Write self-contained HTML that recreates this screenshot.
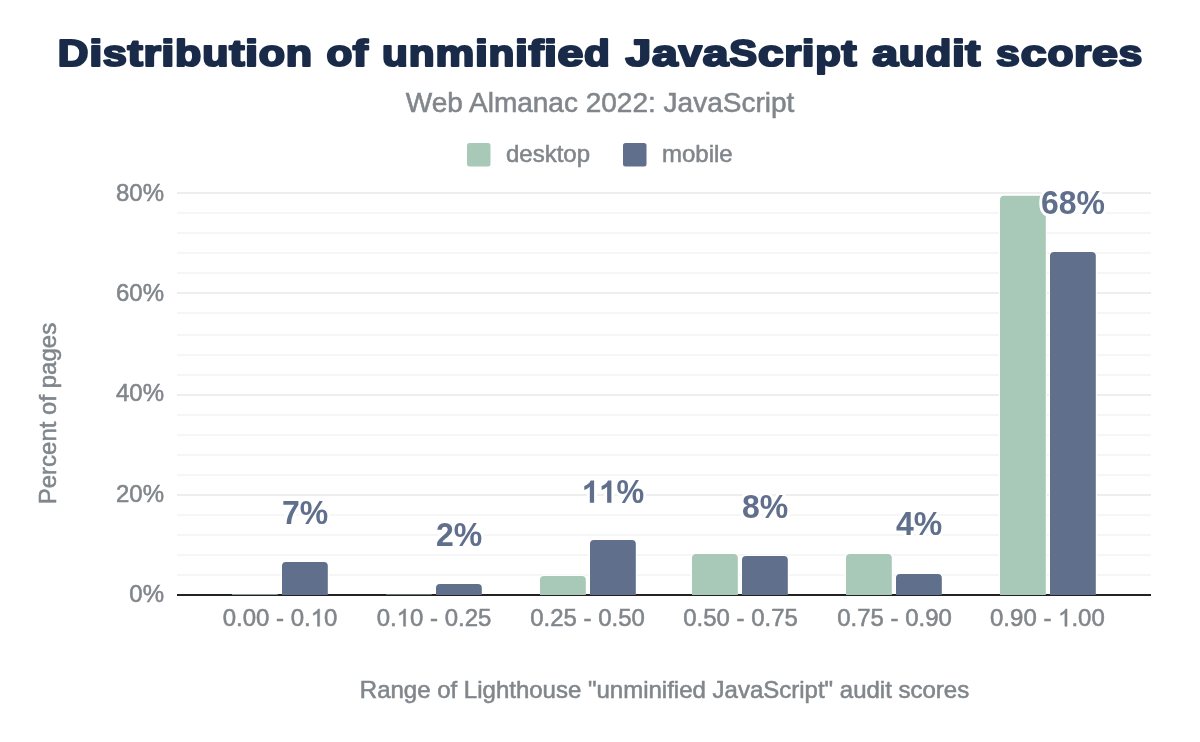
<!DOCTYPE html>
<html><head><meta charset="utf-8">
<style>
html,body{margin:0;padding:0;background:#fff;}
body{width:1200px;height:742px;overflow:hidden;font-family:"Liberation Sans",sans-serif;}
svg{display:block;will-change:transform}
text{font-family:"Liberation Sans",sans-serif;}
.ax{fill:#80868b;font-size:24px}
.ax,#sub,#lg1,#lg2,#xt,#yt{stroke:#80868b;stroke-width:.55px}
.dl{fill:#5f6f8c;font-size:33.5px;font-weight:bold;stroke:#fff;stroke-width:6px;paint-order:stroke;stroke-linejoin:round}
.tk{font-size:24.6px}
.one{fill:none;stroke:none}
</style></head><body>
<svg width="1200" height="742" viewBox="0 0 1200 742">
<rect width="1200" height="742" fill="#fff"/>
<!-- title -->
<g id="title" font-size="37" font-weight="bold" fill="#1a2b49" stroke="#1a2b49" stroke-width="2.2" stroke-linejoin="round">
<text transform="translate(57.82,65.6) scale(1.1478,1)">D</text><text transform="translate(89.16,65.6) scale(1.2760,1)">i</text><text transform="translate(102.86,65.6) scale(1.1706,1)">s</text><text transform="translate(127.55,65.6) scale(1.2444,1)">t</text><text transform="translate(143.39,65.6) scale(1.2158,1)">r</text><text transform="translate(161.37,65.6) scale(1.2760,1)">i</text><text transform="translate(175.10,65.6) scale(1.1628,1)">b</text><text transform="translate(202.20,65.6) scale(1.1628,1)">u</text><text transform="translate(229.13,65.6) scale(1.2444,1)">t</text><text transform="translate(244.91,65.6) scale(1.2760,1)">i</text><text transform="translate(258.64,65.6) scale(1.1628,1)">o</text><text transform="translate(285.74,65.6) scale(1.1628,1)">n</text>
<text transform="translate(326.39,65.6) scale(1.1424,1)">o</text><text transform="translate(352.84,65.6) scale(1.2224,1)">f</text>
<text transform="translate(381.99,65.6) scale(1.1440,1)">u</text><text transform="translate(408.65,65.6) scale(1.1440,1)">n</text><text transform="translate(435.51,65.6) scale(1.1788,1)">m</text><text transform="translate(475.08,65.6) scale(1.2553,1)">i</text><text transform="translate(488.60,65.6) scale(1.1440,1)">n</text><text transform="translate(515.06,65.6) scale(1.2553,1)">i</text><text transform="translate(528.40,65.6) scale(1.2242,1)">f</text><text transform="translate(543.92,65.6) scale(1.2553,1)">i</text><text transform="translate(557.43,65.6) scale(1.2571,1)">e</text><text transform="translate(584.09,65.6) scale(1.1440,1)">d</text>
<text transform="translate(625.47,65.6) scale(1.2490,1)">J</text><text transform="translate(651.96,65.6) scale(1.2490,1)">a</text><text transform="translate(678.42,65.6) scale(1.1441,1)">v</text><text transform="translate(702.71,65.6) scale(1.2490,1)">a</text><text transform="translate(729.24,65.6) scale(1.1270,1)">S</text><text transform="translate(757.88,65.6) scale(1.2490,1)">c</text><text transform="translate(784.23,65.6) scale(1.1884,1)">r</text><text transform="translate(801.80,65.6) scale(1.2471,1)">i</text><text transform="translate(815.22,65.6) scale(1.1366,1)">p</text><text transform="translate(841.55,65.6) scale(1.2162,1)">t</text>
<text transform="translate(872.17,65.6) scale(1.2570,1)">a</text><text transform="translate(898.82,65.6) scale(1.1438,1)">u</text><text transform="translate(925.48,65.6) scale(1.1438,1)">d</text><text transform="translate(951.94,65.6) scale(1.2551,1)">i</text><text transform="translate(965.28,65.6) scale(1.2240,1)">t</text>
<text transform="translate(996.12,65.6) scale(1.1547,1)">s</text><text transform="translate(1020.65,65.6) scale(1.2605,1)">c</text><text transform="translate(1047.38,65.6) scale(1.1470,1)">o</text><text transform="translate(1073.98,65.6) scale(1.1993,1)">r</text><text transform="translate(1091.91,65.6) scale(1.2605,1)">e</text><text transform="translate(1118.61,65.6) scale(1.1547,1)">s</text>
</g>
<text id="sub" x="600" y="112" text-anchor="middle" font-size="28" fill="#80868b">Web Almanac 2022: JavaScript</text>
<!-- legend -->
<rect x="467" y="143" width="23.5" height="23.5" rx="2.5" fill="#a8c9b8"/>
<text id="lg1" x="506" y="162" font-size="24" fill="#80868b">desktop</text>
<rect x="623" y="143" width="23.5" height="23.5" rx="2.5" fill="#5f6f8c"/>
<text id="lg2" x="662" y="162" font-size="24" fill="#80868b">mobile</text>
<!-- gridlines -->
<path d="M177 213H1151M177 233H1151M177 253H1151M177 273H1151M177 313H1151M177 335H1151M177 355H1151M177 375H1151M177 415H1151M177 435H1151M177 455H1151M177 475H1151M177 515H1151M177 535H1151M177 555H1151M177 575H1151" stroke="#f6f6f6" stroke-width="2"/>
<path d="M177 193H1151M177 293H1151M177 395H1151M177 495H1151" stroke="#eeeeee" stroke-width="2"/>
<!-- y labels -->
<g class="ax tk" text-anchor="end">
<text transform="translate(164,201) scale(.9756,1)">80%</text>
<text transform="translate(164,301) scale(.9756,1)">60%</text>
<text transform="translate(164,401) scale(.9756,1)">40%</text>
<text transform="translate(164,502) scale(.9756,1)">20%</text>
<text transform="translate(164,602) scale(.9756,1)">0%</text>
</g>
<!-- bar halos -->
<path d="M540 595V580a4 4 0 0 1 4-4H581.8a4 4 0 0 1 4 4V595zM692 595V558a4 4 0 0 1 4-4H733.8a4 4 0 0 1 4 4V595zM846 595V558a4 4 0 0 1 4-4H887.8a4 4 0 0 1 4 4V595zM1000 595V199.8a4 4 0 0 1 4-4H1041.8a4 4 0 0 1 4 4V595zM282 595V566a4 4 0 0 1 4-4H323.8a4 4 0 0 1 4 4V595zM436 595V588a4 4 0 0 1 4-4H477.8a4 4 0 0 1 4 4V595zM590 595V544a4 4 0 0 1 4-4H631.8a4 4 0 0 1 4 4V595zM742 595V560a4 4 0 0 1 4-4H783.8a4 4 0 0 1 4 4V595zM896 595V578a4 4 0 0 1 4-4H937.8a4 4 0 0 1 4 4V595zM1050 595V256.1a4 4 0 0 1 4-4H1091.8a4 4 0 0 1 4 4V595z" fill="none" stroke="#fff" stroke-width="2.4"/>
<!-- axis line -->
<rect x="177" y="594" width="974" height="2" fill="#222"/>
<!-- bars -->
<path fill="#a8c9b8" d="M232 595V594.3H277.8V595zM386 595V594.4H431.8V595zM540 595V580a4 4 0 0 1 4-4H581.8a4 4 0 0 1 4 4V595zM692 595V558a4 4 0 0 1 4-4H733.8a4 4 0 0 1 4 4V595zM846 595V558a4 4 0 0 1 4-4H887.8a4 4 0 0 1 4 4V595zM1000 595V199.8a4 4 0 0 1 4-4H1041.8a4 4 0 0 1 4 4V595z"/>
<path fill="#5f6f8c" d="M282 595V566a4 4 0 0 1 4-4H323.8a4 4 0 0 1 4 4V595zM436 595V588a4 4 0 0 1 4-4H477.8a4 4 0 0 1 4 4V595zM590 595V544a4 4 0 0 1 4-4H631.8a4 4 0 0 1 4 4V595zM742 595V560a4 4 0 0 1 4-4H783.8a4 4 0 0 1 4 4V595zM896 595V578a4 4 0 0 1 4-4H937.8a4 4 0 0 1 4 4V595zM1050 595V256.1a4 4 0 0 1 4-4H1091.8a4 4 0 0 1 4 4V595z"/>
<!-- data labels -->
<g class="dl" text-anchor="middle">
<text transform="translate(305,524) scale(.955,1)">7%</text>
<text transform="translate(459,546) scale(.955,1)">2%</text>
<text transform="translate(613,502.8) scale(.93,1)"><tspan class="one">1</tspan><tspan class="one">1</tspan>%</text>
<text transform="translate(765,518) scale(.955,1)">8%</text>
<text transform="translate(919,535.3) scale(.955,1)">4%</text>
<text transform="translate(1073,214) scale(.955,1)">68%</text>
</g>
<!-- x labels -->
<g class="ax tk" text-anchor="middle">
<text transform="translate(280,626.2) scale(.9756,1)">0.00 - 0.<tspan class="one">1</tspan>0</text>
<text transform="translate(434,626.2) scale(.9756,1)">0.<tspan class="one">1</tspan>0 - 0.25</text>
<text transform="translate(587.5,626.2) scale(.9756,1)">0.25 - 0.50</text>
<text transform="translate(740.5,626.2) scale(.9756,1)">0.50 - 0.75</text>
<text transform="translate(894.5,626.2) scale(.9756,1)">0.75 - 0.90</text>
<text transform="translate(1047.4,626.2) scale(.9756,1)">0.90 - <tspan class="one">1</tspan>.00</text>
</g>
<text id="xt" x="664.5" y="698" text-anchor="middle" font-size="24" fill="#80868b">Range of Lighthouse "unminified JavaScript" audit scores</text>
<text id="yt" transform="translate(56,413.6) rotate(-90)" text-anchor="middle" font-size="24" fill="#80868b">Percent of pages</text>
<g fill="#5f6f8c" stroke="#fff" stroke-width="6" stroke-linejoin="round" paint-order="stroke">
<g transform="translate(613,502.8) scale(.93,1)"><path transform="translate(-33.51,0.00) scale(0.01636,-0.01521)" d="M806 0H525V1059Q371 915 162 846V1101Q272 1137 401 1237.5T578 1472H806V0Z" vector-effect="non-scaling-stroke"/></g>
<g transform="translate(613,502.8) scale(.93,1)"><path transform="translate(-14.89,0.00) scale(0.01636,-0.01521)" d="M806 0H525V1059Q371 915 162 846V1101Q272 1137 401 1237.5T578 1472H806V0Z" vector-effect="non-scaling-stroke"/></g>
</g>
<g fill="#80868b" stroke="#80868b" stroke-width=".55">
<g transform="translate(280,626.2) scale(.9756,1)"><path transform="translate(31.44,0.00) scale(0.01201,-0.01172)" d="M763 0H583V1147Q518 1085 412.5 1023T223 930V1104Q374 1175 487 1276T647 1472H763V0Z" vector-effect="non-scaling-stroke"/></g>
<g transform="translate(434,626.2) scale(.9756,1)"><path transform="translate(-38.29,0.00) scale(0.01201,-0.01172)" d="M763 0H583V1147Q518 1085 412.5 1023T223 930V1104Q374 1175 487 1276T647 1472H763V0Z" vector-effect="non-scaling-stroke"/></g>
<g transform="translate(1047.4,626.2) scale(.9756,1)"><path transform="translate(10.93,0.00) scale(0.01201,-0.01172)" d="M763 0H583V1147Q518 1085 412.5 1023T223 930V1104Q374 1175 487 1276T647 1472H763V0Z" vector-effect="non-scaling-stroke"/></g>
</g>
</svg>
</body></html>
